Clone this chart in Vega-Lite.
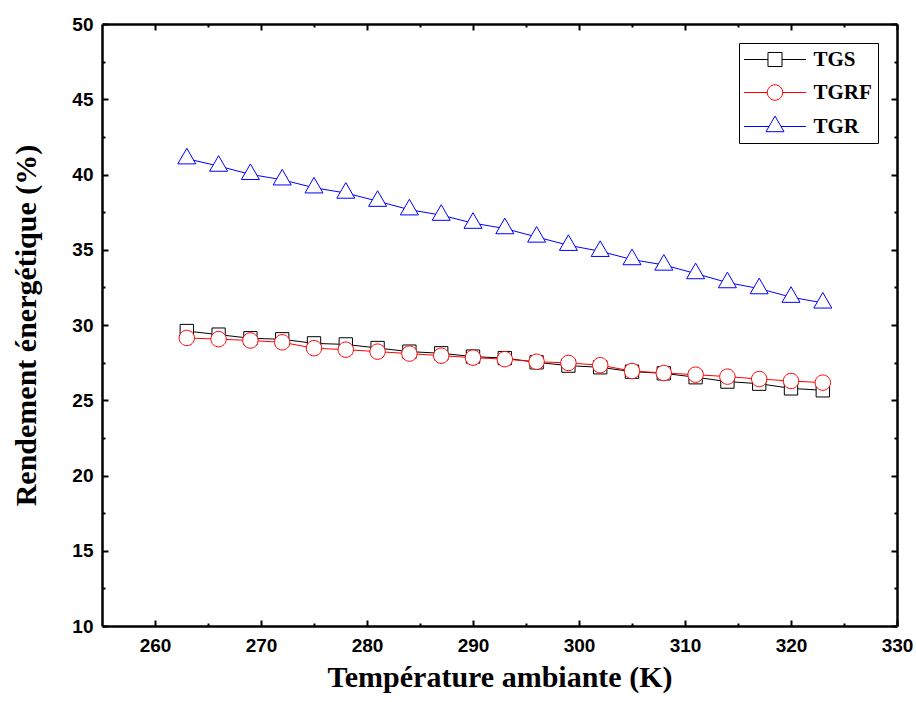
{
  "$schema": "https://vega.github.io/schema/vega-lite/v6.json",
  "width": 795,
  "height": 602,
  "autosize": {"type": "none"},
  "padding": {"left": 102, "top": 24, "right": 19, "bottom": 76},
  "background": "white",
  "config": {
    "view": {"stroke": null},
    "axis": {
      "domainColor": "black",
      "domainWidth": 2.5,
      "tickColor": "black",
      "tickWidth": 2,
      "grid": false,
      "labelFont": "Liberation Sans",
      "labelFontWeight": "bold",
      "labelFontSize": 19,
      "labelColor": "black",
      "titleFont": "Liberation Serif",
      "titleFontWeight": "bold",
      "titleFontSize": 30,
      "titleColor": "black",
      "labelFlush": false,
      "labelOverlap": false
    },
    "legend": {
      "orient": "top-right",
      "offset": 19,
      "padding": 6,
      "strokeColor": "black",
      "fillColor": "white",
      "symbolSize": 324,
      "symbolStrokeWidth": 1,
      "symbolFillColor": "white",
      "symbolOpacity": 1,
      "symbolOffset": 19.5,
      "labelOffset": 28,
      "labelFont": "Liberation Serif",
      "labelFontWeight": "bold",
      "labelFontSize": 21,
      "labelColor": "black",
      "rowPadding": 11
    }
  },
  "data": {
    "values": [
      {"series": "TGS", "T": 263, "R": 29.60},
      {"series": "TGS", "T": 266, "R": 29.36},
      {"series": "TGS", "T": 269, "R": 29.12},
      {"series": "TGS", "T": 272, "R": 29.05},
      {"series": "TGS", "T": 275, "R": 28.78},
      {"series": "TGS", "T": 278, "R": 28.71},
      {"series": "TGS", "T": 281, "R": 28.47},
      {"series": "TGS", "T": 284, "R": 28.23},
      {"series": "TGS", "T": 287, "R": 28.12},
      {"series": "TGS", "T": 290, "R": 27.90},
      {"series": "TGS", "T": 293, "R": 27.80},
      {"series": "TGS", "T": 296, "R": 27.52},
      {"series": "TGS", "T": 299, "R": 27.30},
      {"series": "TGS", "T": 302, "R": 27.19},
      {"series": "TGS", "T": 305, "R": 26.90},
      {"series": "TGS", "T": 308, "R": 26.79},
      {"series": "TGS", "T": 311, "R": 26.53},
      {"series": "TGS", "T": 314, "R": 26.24},
      {"series": "TGS", "T": 317, "R": 26.10},
      {"series": "TGS", "T": 320, "R": 25.79},
      {"series": "TGS", "T": 323, "R": 25.66},
      {"series": "TGRF", "T": 263, "R": 29.14},
      {"series": "TGRF", "T": 266, "R": 29.06},
      {"series": "TGRF", "T": 269, "R": 28.97},
      {"series": "TGRF", "T": 272, "R": 28.85},
      {"series": "TGRF", "T": 275, "R": 28.46},
      {"series": "TGRF", "T": 278, "R": 28.36},
      {"series": "TGRF", "T": 281, "R": 28.23},
      {"series": "TGRF", "T": 284, "R": 28.10},
      {"series": "TGRF", "T": 287, "R": 27.96},
      {"series": "TGRF", "T": 290, "R": 27.83},
      {"series": "TGRF", "T": 293, "R": 27.73},
      {"series": "TGRF", "T": 296, "R": 27.56},
      {"series": "TGRF", "T": 299, "R": 27.48},
      {"series": "TGRF", "T": 302, "R": 27.33},
      {"series": "TGRF", "T": 305, "R": 26.94},
      {"series": "TGRF", "T": 308, "R": 26.81},
      {"series": "TGRF", "T": 311, "R": 26.70},
      {"series": "TGRF", "T": 314, "R": 26.57},
      {"series": "TGRF", "T": 317, "R": 26.41},
      {"series": "TGRF", "T": 320, "R": 26.28},
      {"series": "TGRF", "T": 323, "R": 26.17},
      {"series": "TGR", "T": 263, "R": 41.05},
      {"series": "TGR", "T": 266, "R": 40.56},
      {"series": "TGR", "T": 269, "R": 40.01},
      {"series": "TGR", "T": 272, "R": 39.65},
      {"series": "TGR", "T": 275, "R": 39.12},
      {"series": "TGR", "T": 278, "R": 38.77},
      {"series": "TGR", "T": 281, "R": 38.23},
      {"series": "TGR", "T": 284, "R": 37.66},
      {"series": "TGR", "T": 287, "R": 37.30},
      {"series": "TGR", "T": 290, "R": 36.77},
      {"series": "TGR", "T": 293, "R": 36.41},
      {"series": "TGR", "T": 296, "R": 35.85},
      {"series": "TGR", "T": 299, "R": 35.30},
      {"series": "TGR", "T": 302, "R": 34.90},
      {"series": "TGR", "T": 305, "R": 34.35},
      {"series": "TGR", "T": 308, "R": 33.99},
      {"series": "TGR", "T": 311, "R": 33.42},
      {"series": "TGR", "T": 314, "R": 32.82},
      {"series": "TGR", "T": 317, "R": 32.42},
      {"series": "TGR", "T": 320, "R": 31.85},
      {"series": "TGR", "T": 323, "R": 31.47}
    ]
  },
  "layer": [
    {
      "mark": {"type": "line", "strokeWidth": 1},
      "encoding": {
        "x": {
          "field": "T",
          "type": "quantitative",
          "scale": {"domain": [255, 330], "nice": false, "zero": false},
          "axis": {
            "orient": "bottom",
            "title": "Température ambiante (K)",
            "values": [260, 265, 270, 275, 280, 285, 290, 295, 300, 305, 310, 315, 320, 325, 330],
            "labelExpr": "datum.value % 10 === 0 ? datum.label : ''",
            "tickSize": {"condition": {"test": "datum.value % 10 === 0", "value": -6}, "value": -3},
            "labelPadding": 16,
            "titlePadding": 4
          }
        },
        "y": {
          "field": "R",
          "type": "quantitative",
          "scale": {"domain": [10, 50], "nice": false, "zero": false},
          "axis": {
            "orient": "left",
            "title": "Rendement énergétique (%)",
            "values": [10, 12.5, 15, 17.5, 20, 22.5, 25, 27.5, 30, 32.5, 35, 37.5, 40, 42.5, 45, 47.5, 50],
            "labelExpr": "datum.value % 5 === 0 ? datum.label : ''",
            "tickSize": {"condition": {"test": "datum.value % 5 === 0", "value": -6}, "value": -3},
            "labelPadding": 15,
            "titlePadding": 30
          }
        },
        "color": {
          "field": "series",
          "type": "nominal",
          "scale": {"domain": ["TGS", "TGRF", "TGR"], "range": ["#000000", "#ff0000", "#0000ff"]},
          "legend": {"title": null}
        }
      }
    },
    {
      "transform": [{"filter": "datum.series === 'TGS'"}],
      "mark": {"type": "point", "shape": "M-0.74,-0.74L0.74,-0.74L0.74,0.74L-0.74,0.74Z", "filled": false, "fill": "white", "strokeWidth": 1, "size": 324, "opacity": 1},
      "encoding": {
        "x": {
          "field": "T",
          "type": "quantitative",
          "axis": {
            "orient": "top",
            "labels": false,
            "title": null,
            "values": [260, 265, 270, 275, 280, 285, 290, 295, 300, 305, 310, 315, 320, 325, 330],
            "tickSize": {"condition": {"test": "datum.value % 10 === 0", "value": -6}, "value": -3}
          }
        },
        "y": {
          "field": "R",
          "type": "quantitative",
          "axis": {
            "orient": "right",
            "labels": false,
            "title": null,
            "values": [10, 12.5, 15, 17.5, 20, 22.5, 25, 27.5, 30, 32.5, 35, 37.5, 40, 42.5, 45, 47.5, 50],
            "tickSize": {"condition": {"test": "datum.value % 5 === 0", "value": -6}, "value": -3}
          }
        },
        "color": {"field": "series", "type": "nominal", "legend": {"title": null}}
      }
    },
    {
      "transform": [{"filter": "datum.series === 'TGRF'"}],
      "mark": {"type": "point", "shape": "M-0.855,0A0.855,0.855 0 1,0 0.855,0A0.855,0.855 0 1,0 -0.855,0Z", "filled": false, "fill": "white", "strokeWidth": 1, "size": 324, "opacity": 1},
      "encoding": {
        "x": {"field": "T", "type": "quantitative", "axis": null},
        "y": {"field": "R", "type": "quantitative", "axis": null},
        "color": {"field": "series", "type": "nominal", "legend": {"title": null}}
      }
    },
    {
      "transform": [{"filter": "datum.series === 'TGR'"}],
      "mark": {"type": "point", "shape": "M0,-1.155L1,0.577L-1,0.577Z", "filled": false, "fill": "white", "strokeWidth": 1, "size": 324, "opacity": 1},
      "encoding": {
        "x": {"field": "T", "type": "quantitative", "axis": null},
        "y": {"field": "R", "type": "quantitative", "axis": null},
        "color": {"field": "series", "type": "nominal", "legend": {"title": null}}
      }
    },
    {
      "mark": {"type": "point", "filled": false, "fill": "white", "strokeWidth": 1, "size": 324, "opacity": 0},
      "encoding": {
        "color": {"field": "series", "type": "nominal", "legend": {"title": null}},
        "shape": {
          "field": "series",
          "type": "nominal",
          "scale": {
            "domain": ["TGS", "TGRF", "TGR"],
            "range": [
              "M-3.44,0L-0.78,0M0.78,0L3.44,0M-0.78,-0.78L0.78,-0.78L0.78,0.78L-0.78,0.78Z",
              "M-3.44,0L-0.855,0M0.855,0L3.44,0M-0.855,0A0.855,0.855 0 1,0 0.855,0A0.855,0.855 0 1,0 -0.855,0Z",
              "M-3.44,0L-0.667,0M0.667,0L3.44,0M0,-1.155L1,0.577L-1,0.577Z"
            ]
          },
          "legend": {"title": null}
        }
      }
    }
  ],
  "resolve": {"axis": {"x": "independent", "y": "independent"}}
}
